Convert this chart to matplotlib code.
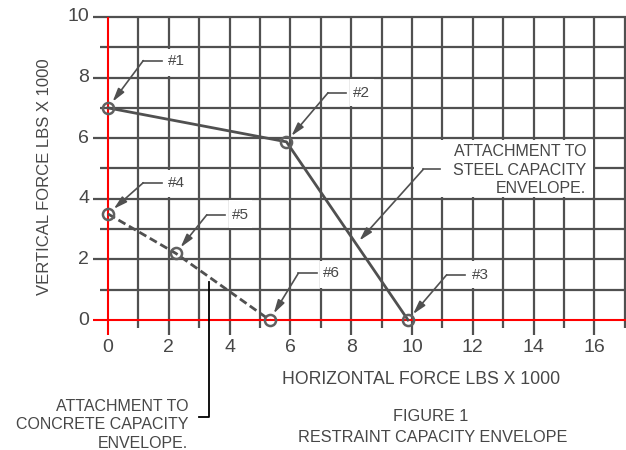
import numpy as np
import matplotlib
matplotlib.use('Agg')
import matplotlib.pyplot as plt
from matplotlib.patches import Rectangle

plt.rcParams['font.family'] = ['Liberation Sans', 'DejaVu Sans']

#Envelope points (x1000 lbs)
steel_x = [0.0, 5.87, 9.87]
steel_y = [7.0, 5.88, 0.0]
concrete_x = [0.0, 2.23, 5.32]
concrete_y = [3.5, 2.2, 0.0]
steel_names = ['#1', '#2', '#3']
concrete_names = ['#4', '#5', '#6']

x_ticks = [0, 2, 4, 6, 8, 10, 12, 14, 16]
y_ticks = [0, 2, 4, 6, 8, 10]
grid_x = np.arange(1, 18)
grid_y = np.arange(1, 11)

#Layout of the leaders: elbow offset from the point (data units)
elbow_dx = [1.16, 1.37, 1.27, 1.16, 1.02, 0.94]
elbow_dy = [1.56, 1.62, 1.49, 1.03, 1.27, 1.54]

grey = '#505050'
text_grey = '#474747'
arrow_style = '-|>,head_length=0.8,head_width=0.22'

fig = plt.figure(figsize=(6.26, 4.5), dpi=100)
ax = fig.add_axes([0.14824, 0.25522, 0.85176, 0.71378])
ax.set_xlim(-0.5, 17.04)
ax.set_ylim(-0.5, 10.1)
ax.axis('off')

#Grid, the even lines run a bit further out like tick marks
for gx in grid_x:
    low = -0.5 if gx % 2 == 0 else -0.27
    ax.plot([gx, gx], [low, 10], color=grey, lw=1.6, zorder=1, clip_on=False,
            solid_capstyle='butt')
for gy in grid_y:
    left = -0.5 if gy % 2 == 0 else -0.27
    ax.plot([left, 17.04], [gy, gy], color=grey, lw=1.6, zorder=1, clip_on=False,
            solid_capstyle='butt')
ax.plot([0, 0], [-0.5, 10], color='#ff0000', lw=1.5, zorder=2, solid_capstyle='butt')
ax.plot([-0.5, 17.04], [0, 0], color='#ff0000', lw=1.5, zorder=2, solid_capstyle='butt')

#Tick labels
for t in x_ticks:
    ax.text(t, -0.9, str(t), ha='center', va='center', fontsize=14, color=text_grey)
for t in y_ticks:
    ax.text(-0.62, t, str(t), ha='right', va='center', fontsize=14, color=text_grey)

#Envelopes
ax.plot(steel_x, steel_y, color=grey, lw=2, zorder=5)
ax.plot(concrete_x, concrete_y, color=grey, lw=2, dashes=[2.9, 1.45], zorder=5)
ax.plot(steel_x + concrete_x, steel_y + concrete_y, 'o', ms=8, mfc='none',
        mec='#606060', mew=1.8, zorder=6)

#Point labels with leaders
all_x = steel_x + concrete_x
all_y = steel_y + concrete_y
all_names = steel_names + concrete_names
for i in range(len(all_x)):
    ex = all_x[i] + elbow_dx[i]
    ey = all_y[i] + elbow_dy[i]
    tx = ex + 0.82
    cell = np.floor(ey)
    ax.add_patch(Rectangle((tx - 0.1, cell + 0.05), 0.78, 0.9, facecolor='white',
                           edgecolor='none', zorder=3))
    ax.plot([ex, ex + 0.6], [ey, ey], color=grey, lw=1.2, zorder=4)
    ax.annotate('', xy=(all_x[i], all_y[i]), xytext=(ex, ey),
                arrowprops=dict(arrowstyle=arrow_style, color=grey, lw=1.2,
                                shrinkA=0, shrinkB=5.5, mutation_scale=10),
                zorder=4)
    ax.text(tx, ey, all_names[i], ha='left', va='center', fontsize=11,
            color=text_grey, zorder=7)

#Steel capacity note
ax.add_patch(Rectangle((10.05, 4.05), 5.9, 1.9, facecolor='white',
                       edgecolor='none', zorder=3))
ax.plot([10.37, 10.92], [4.97, 4.97], color=grey, lw=1.2, zorder=4)
ax.annotate('', xy=(8.27, 2.62), xytext=(10.37, 4.97),
            arrowprops=dict(arrowstyle=arrow_style, color=grey, lw=1.2,
                            shrinkA=0, shrinkB=0, mutation_scale=10),
            zorder=4)
ax.text(15.74, 4.95, 'ATTACHMENT TO\nSTEEL CAPACITY\nENVELOPE.', ha='right',
        va='center', multialignment='right', fontsize=11.5, color=text_grey,
        linespacing=1.27, zorder=7)

#Concrete capacity note
ax.plot([3.0, 3.33, 3.33], [-3.21, -3.21, 1.27], color='black', lw=1.3,
        zorder=4, clip_on=False)
ax.text(2.64, -3.46, 'ATTACHMENT TO\nCONCRETE CAPACITY\nENVELOPE.', ha='right',
        va='center', multialignment='right', fontsize=11.5, color=text_grey,
        linespacing=1.27, clip_on=False)

#Axis titles and caption
ax.text(10.3, -1.98, 'HORIZONTAL FORCE LBS X 1000', ha='center', va='center',
        fontsize=12.7, color=text_grey)
fig.text(45 / 626, 1 - 177 / 450, 'VERTICAL FORCE LBS X 1000', rotation=90,
         ha='center', va='center', fontsize=12, color=text_grey)
ax.text(10.62, -3.17, 'FIGURE 1', ha='center', va='center', fontsize=11.7,
        color=text_grey)
ax.text(10.68, -3.89, 'RESTRAINT CAPACITY ENVELOPE', ha='center', va='center',
        fontsize=11.7, color=text_grey)

fig.savefig('out.png', dpi=100)
